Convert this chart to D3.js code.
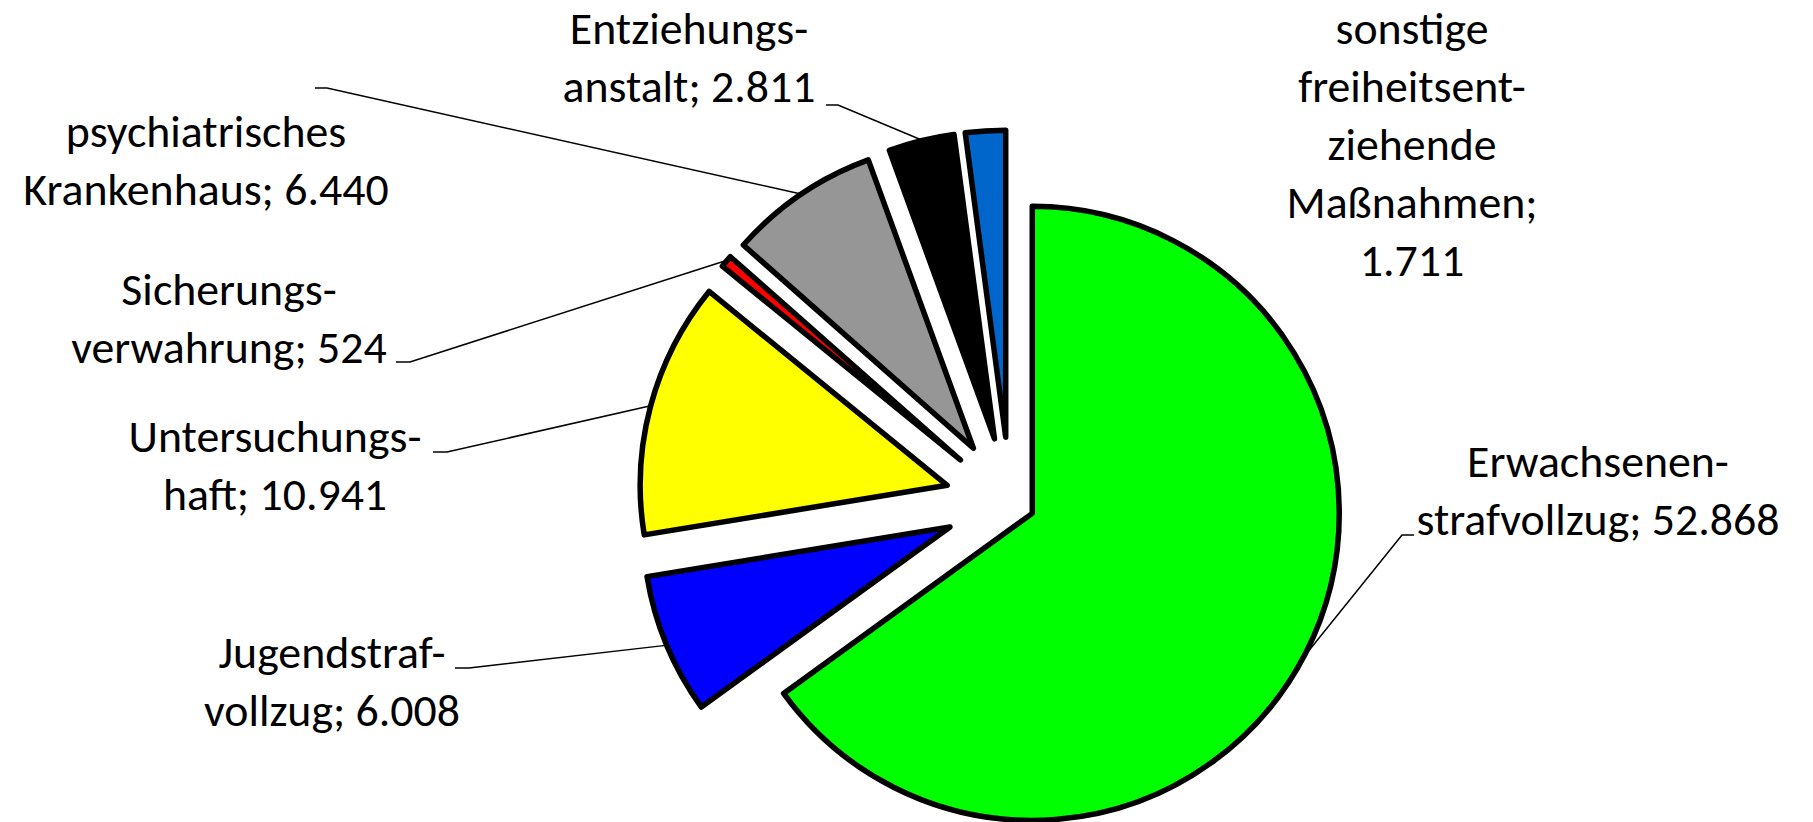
<!DOCTYPE html>
<html>
<head>
<meta charset="utf-8">
<script src="https://cdn.jsdelivr.net/npm/d3@7"></script>
<style>
  html, body { margin: 0; padding: 0; background: #fff; }
  svg { display: block; }
</style>
</head>
<body>
<svg id="chart" width="1813" height="822"></svg>
<script>
// ---------- data ----------
const categories = [
  "Erwachsenenstrafvollzug",
  "Jugendstrafvollzug",
  "Untersuchungshaft",
  "Sicherungsverwahrung",
  "psychiatrisches Krankenhaus",
  "Entziehungsanstalt",
  "sonstige freiheitsentziehende Maßnahmen"
];
const values = [52868, 6008, 10941, 524, 6440, 2811, 1711];
const labelLines = [
  ["Erwachsenen-", "strafvollzug;"],
  ["Jugendstraf-", "vollzug;"],
  ["Untersuchungs-", "haft;"],
  ["Sicherungs-", "verwahrung;"],
  ["psychiatrisches", "Krankenhaus;"],
  ["Entziehungs-", "anstalt;"],
  ["sonstige", "freiheitsent-", "ziehende", "Maßnahmen;", ""]
];
const colors = ["#00FF00", "#0000FF", "#FFFF00", "#FF0000", "#969696", "#000000", "#0066CC"];

// ---------- layout ----------
const W = 1813, H = 822;
const center = [1010, 502];
const radius = 307;
const explode = [25, 65, 65, 65, 65, 65, 65];
const lineH = 58;
// label block: centre x, first baseline, leader start (text side) and knee
const labelLayout = [
  { cx: 1598, y0: 477, leader: [[1414, 535], [1402, 535]] },
  { cx: 332,  y0: 668, leader: [[455, 668], [469, 668]] },
  { cx: 275,  y0: 452, leader: [[433, 452], [447, 452]] },
  { cx: 229,  y0: 305, leader: [[396, 362], [410, 362]] },
  { cx: 206,  y0: 147, leader: [[315, 88], [327, 88]] },
  { cx: 689,  y0: 44,  leader: [[826, 105], [838, 105]] },
  { cx: 1412, y0: 44,  leader: null }
];

const fmt = d3.formatLocale({ decimal: ",", thousands: ".", grouping: [3], currency: ["", " €"] }).format(",d");

const data = categories.map((c, i) => ({ name: c, value: values[i], i }));

const svg = d3.select("#chart");
const g = svg.append("g").attr("transform", `translate(${center[0]},${center[1]})`);

const pie = d3.pie().sort(null).value(d => d.value).startAngle(0).endAngle(2 * Math.PI);
const arc = d3.arc().innerRadius(0).outerRadius(radius);
const arcs = pie(data);

arcs.forEach(a => {
  const mid = (a.startAngle + a.endAngle) / 2;
  const off = explode[a.data.i];
  a.dx = off * Math.sin(mid);
  a.dy = -off * Math.cos(mid);
  a.mid = mid;
});

g.selectAll("path.slice")
  .data(arcs)
  .join("path")
  .attr("class", "slice")
  .attr("d", arc)
  .attr("transform", d => `translate(${d.dx},${d.dy})`)
  .attr("fill", d => colors[d.data.i])
  .attr("stroke", "#000")
  .attr("stroke-width", 5.5)
  .attr("stroke-linejoin", "round");

// leader lines
const lineGen = d3.line();
arcs.forEach(a => {
  const L = labelLayout[a.data.i];
  if (!L.leader) return;
  const ex = center[0] + a.dx + (radius + 1) * Math.sin(a.mid);
  const ey = center[1] + a.dy - (radius + 1) * Math.cos(a.mid);
  svg.append("path")
    .attr("d", lineGen([L.leader[0], L.leader[1], [ex, ey]]))
    .attr("fill", "none")
    .attr("stroke", "#000")
    .attr("stroke-width", 1.5);
});

// labels
const fontFamily = "Carlito, Calibri, Lato, 'Open Sans', sans-serif";
// fit font size so the reference line width matches
const probe = svg.append("text").attr("font-family", fontFamily).attr("font-size", 45)
  .text("strafvollzug; 52.868");
const w45 = probe.node().getComputedTextLength();
probe.remove();
const fontSize = 45 * 363 / w45;

arcs.forEach(a => {
  const i = a.data.i;
  const L = labelLayout[i];
  const lines = labelLines[i].slice();
  const last = lines.length - 1;
  lines[last] = lines[last] ? lines[last] + " " + fmt(values[i]) : fmt(values[i]);
  const t = svg.append("text")
    .attr("font-family", fontFamily)
    .attr("font-size", fontSize)
    .attr("fill", "#000")
    .attr("text-anchor", "middle");
  lines.forEach((ln, k) => {
    t.append("tspan").attr("x", L.cx).attr("y", L.y0 + k * lineH).text(ln);
  });
});
</script>
</body>
</html>
